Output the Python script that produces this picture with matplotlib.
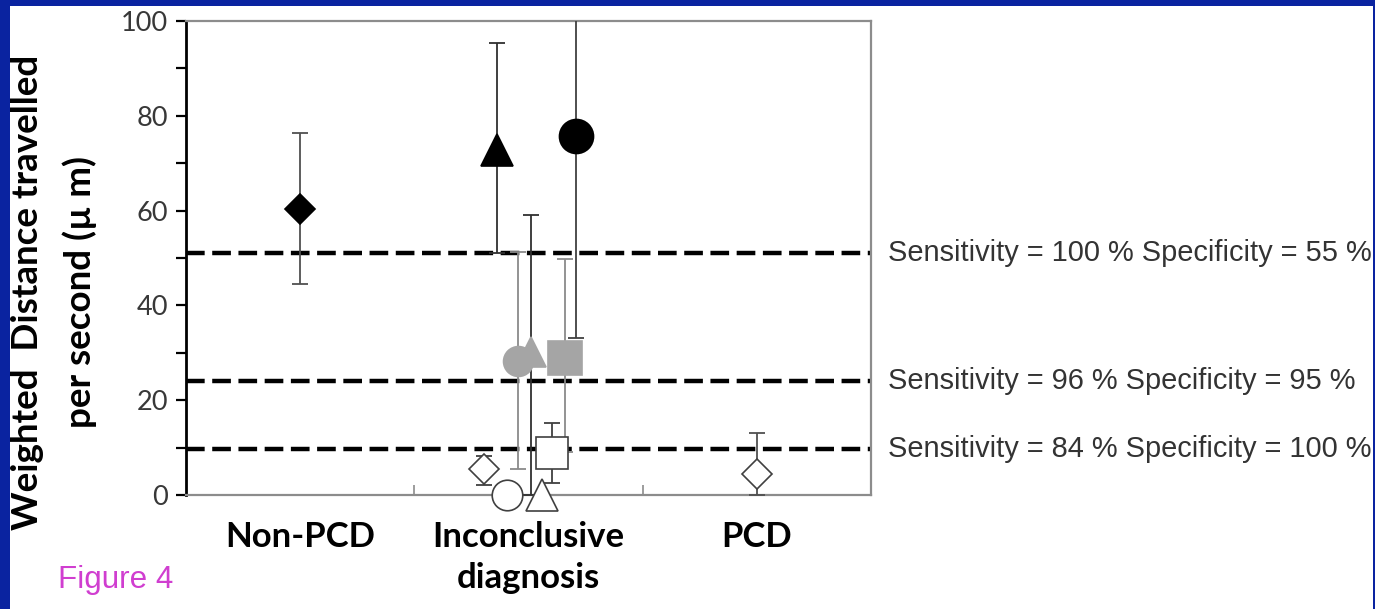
import matplotlib
matplotlib.use("Agg")
import matplotlib.pyplot as plt
import matplotlib.transforms as mtransforms
from matplotlib.patches import Rectangle

# ---------------- data ----------------
categories = ["Non-PCD", "Inconclusive\ndiagnosis", "PCD"]

point_group = [0, 1, 1, 1, 1, 1, 1, 1, 1, 1, 2]
point_value = [60.3, 5.4, 0.0, 28.3, 72.7, 30.2, 0.0, 8.8, 29.0, 75.7, 4.4]
point_low   = [44.6, 2.1, 0.0, 5.5, 51.0, 0.0, 0.0, 2.5, 9.0, 33.1, 0.0]
point_high  = [76.4, 8.2, 0.0, 51.3, 95.4, 59.1, 0.0, 15.2, 49.8, 118.0, 13.0]

threshold_values = [51.0, 24.0, 9.7]
threshold_labels = ["Sensitivity = 100 % Specificity = 55 %",
                    "Sensitivity = 96 % Specificity = 95 %",
                    "Sensitivity = 84 % Specificity = 100 %"]

y_ticks = [0, 20, 40, 60, 80, 100]

# ---------------- styles ----------------
point_offset = [0.0, -0.193, -0.092, -0.044, -0.140, 0.013, 0.057, 0.105, 0.158, 0.210, 0.0]
point_marker = ['D', 'D', 'o', 'o', '^', '^', '^', 's', 's', 'o', 'D']
point_face   = ['black', 'white', 'white', '#a5a5a5', 'black', '#a5a5a5', 'white',
                'white', '#a5a5a5', 'black', 'white']
point_edge   = ['black', '#404040', '#404040', '#a5a5a5', 'black', '#a5a5a5', '#404040',
                '#404040', '#a5a5a5', 'black', '#404040']
point_size   = [15.5, 15.5, 22.0, 21.5, 23.5, 21.0, 23.0, 23.5, 24.5, 24.5, 15.5]
point_ecolor = ['#505050', '#404040', '#404040', '#8a8a8a', '#303030', '#303030', '#404040',
                '#404040', '#8a8a8a', '#404040', '#505050']
draw_order   = [0, 4, 9, 1, 3, 5, 8, 2, 6, 7, 10]

W, H = 1375, 609
fig = plt.figure(figsize=(W / 100, H / 100), dpi=100)
fig.patch.set_facecolor('#0a23a0')
fig.patches.append(Rectangle((10 / W, 0), (1373 - 10) / W, (609 - 6) / H,
                             transform=fig.transFigure, facecolor='white',
                             edgecolor='none', zorder=-10))

ax = fig.add_axes([186 / W, (H - 495) / H, (871 - 186) / W, (495 - 21) / H])
ax.set_zorder(2)
ax.set_facecolor('white')
ax.set_xlim(0, 3)
ax.set_ylim(0, 100)

# spines
ax.spines['left'].set_color('black')
ax.spines['left'].set_linewidth(2.0)
for s in ['top', 'right', 'bottom']:
    ax.spines[s].set_color('#8c8c8c')
    ax.spines[s].set_linewidth(1.6)

# y ticks
ax.set_yticks(y_ticks)
ax.set_yticks(range(0, 101, 10), minor=True)
ax.tick_params(axis='y', which='both', direction='out', length=7, width=1.6,
               color='black', left=True, right=False)
ax.tick_params(axis='y', which='major', labelsize=19.5, labelcolor='#383838', pad=6)
for lab in ax.get_yticklabels():
    lab.set_fontfamily('Lato')

# x ticks: boundaries (major, inward), labels at category centres (minor)
ax.set_xticks([1, 2])
ax.set_xticklabels([])
ax.tick_params(axis='x', which='major', direction='in', length=7, width=1.2,
               color='#8c8c8c', top=False)
ax.set_xticks([i + 0.5 for i in range(len(categories))], minor=True)
ax.set_xticklabels(categories, minor=True)
ax.tick_params(axis='x', which='minor', length=0, pad=19, labelsize=25)
for lab in ax.get_xticklabels(minor=True):
    lab.set_fontfamily('Lato')
    lab.set_fontweight('bold')
    lab.set_va('top')
    lab.set_linespacing(1.32)

# threshold lines
trans = mtransforms.blended_transform_factory(ax.transAxes, ax.transData)
for v, lab in zip(threshold_values, threshold_labels):
    ax.axhline(v, color='black', linewidth=3.2, dashes=(4.2, 1.7), zorder=2)
    ax.text(1.0255, v, lab, transform=trans, va='center', ha='left',
            fontsize=20.9, fontfamily='Liberation Sans', color='#333333')

# error bars + markers
for i in draw_order:
    x = point_group[i] + 0.5 + point_offset[i]
    v = point_value[i]
    lo, hi = point_low[i], point_high[i]
    if hi > lo:
        ax.errorbar([x], [v], yerr=[[v - lo], [hi - v]], fmt='none',
                    ecolor=point_ecolor[i], elinewidth=1.3, capsize=6,
                    capthick=1.3, zorder=3)
    ax.plot([x], [v], marker=point_marker[i], markersize=point_size[i],
            markerfacecolor=point_face[i], markeredgecolor=point_edge[i],
            markeredgewidth=1.2, linestyle='none', clip_on=False, zorder=4)

# y-axis label (two lines)
fig.text(28 / W, (H - 292) / H, "Weighted  Distance travelled", rotation=90,
         ha='center', va='center', fontsize=26.5, fontweight='bold',
         fontfamily='Lato', color='black')
fig.text(80 / W, (H - 292) / H, "per second (\u00b5 m)", rotation=90,
         ha='center', va='center', fontsize=26.5, fontweight='bold',
         fontfamily='Lato', color='black')

fig.text(58 / W, (H - 588) / H, "Figure 4", ha='left', va='baseline',
         fontsize=22.6, fontfamily='Liberation Sans', color='#d03ed0')

fig.savefig('out.png', dpi=100, facecolor=fig.get_facecolor())
